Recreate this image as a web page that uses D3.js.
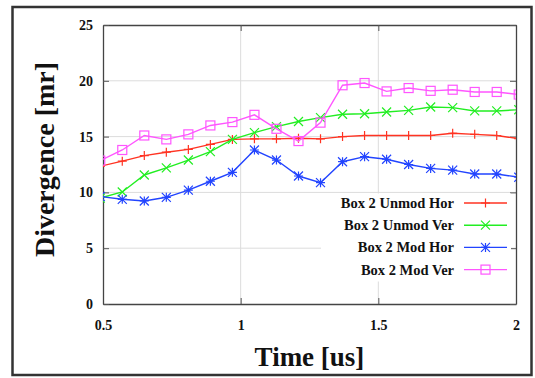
<!DOCTYPE html>
<html>
<head>
<meta charset="utf-8">
<script src="https://cdn.jsdelivr.net/npm/d3@7"></script>
<style>
  body { margin: 0; background: #fff; }
  svg text { font-family: 'Liberation Serif', 'DejaVu Serif', serif; font-weight: bold; fill: #111; }
</style>
</head>
<body>
<svg id="chart" width="535" height="378"></svg>
<script>
// time samples (us); first and last lie just outside the plotted range and get clipped
const TIME = [0.49, 0.57, 0.65, 0.73, 0.81, 0.89, 0.97, 1.05, 1.13, 1.21,
  1.29, 1.37, 1.45, 1.53, 1.61, 1.69, 1.77, 1.85, 1.93, 2.01]

const UNMOD_HOR = [12.34, 12.8, 13.3, 13.6, 13.85, 14.3, 14.75, 14.8, 14.8, 14.85,
  14.8, 15.0, 15.1, 15.1, 15.1, 15.1, 15.3, 15.2, 15.1, 14.81]
const UNMOD_VER = [9.49, 10.04, 11.56, 12.2, 12.9, 13.65, 14.75, 15.35, 15.9, 16.35,
  16.7, 17.0, 17.05, 17.2, 17.35, 17.65, 17.6, 17.3, 17.3, 17.41]
const MOD_HOR = [9.63, 9.38, 9.23, 9.56, 10.2, 11.0, 11.8, 13.8, 12.9, 11.47,
  10.87, 12.75, 13.2, 12.97, 12.5, 12.15, 12.0, 11.65, 11.65, 11.36]
const MOD_VER = [12.85, 13.8, 15.1, 14.75, 15.2, 16.0, 16.3, 16.95, 15.7, 14.6,
  16.25, 19.6, 19.8, 19.05, 19.35, 19.1, 19.2, 19.0, 19.0, 18.77]

const SERIES_NAMES = ['Box 2 Unmod Hor', 'Box 2 Unmod Ver', 'Box 2 Mod Hor', 'Box 2 Mod Ver']
const X_TICKS = [0.5, 1, 1.5, 2]
const Y_TICKS = [0, 5, 10, 15, 20, 25]

const STYLE = {
  width: 535,
  height: 378,
  margin: { top: 25, right: 19, bottom: 74, left: 103 },
  colors: ['#ff3322', '#22ee22', '#2244ff', '#ff55ff'],
  markers: ['plus', 'cross', 'star', 'square']
}

function drawMarker (g, type, cx, cy, color) {
  const s = 4.5
  if (type === 'plus') {
    g.append('path').attr('d', `M${cx - s},${cy}H${cx + s}M${cx},${cy - s}V${cy + s}`)
      .attr('stroke', color).attr('stroke-width', 1.2).attr('fill', 'none')
  } else if (type === 'cross') {
    g.append('path').attr('d', `M${cx - s},${cy - s}L${cx + s},${cy + s}M${cx - s},${cy + s}L${cx + s},${cy - s}`)
      .attr('stroke', color).attr('stroke-width', 1.2).attr('fill', 'none')
  } else if (type === 'star') {
    g.append('path').attr('d', `M${cx - s},${cy}H${cx + s}M${cx},${cy - s}V${cy + s}M${cx - s},${cy - s}L${cx + s},${cy + s}M${cx - s},${cy + s}L${cx + s},${cy - s}`)
      .attr('stroke', color).attr('stroke-width', 1.2).attr('fill', 'none')
  } else {
    g.append('rect').attr('x', cx - s).attr('y', cy - s).attr('width', 2 * s).attr('height', 2 * s)
      .attr('stroke', color).attr('stroke-width', 1.2).attr('fill', 'none')
  }
}

function drawChart () {
  const { width, height, margin, colors, markers } = STYLE
  const svg = d3.select('#chart')

  const x = d3.scaleLinear().domain([0.5, 2]).range([margin.left, width - margin.right])
  const y = d3.scaleLinear().domain([0, 25]).range([height - margin.bottom, margin.top])
  const [x0, x1] = x.range()
  const [y0, y1] = y.range()

  // outer frame
  svg.append('rect').attr('x', 12.5).attr('y', 7).attr('width', 519).attr('height', 368)
    .attr('fill', 'none').attr('stroke', '#333').attr('stroke-width', 2.5)

  // grid
  svg.append('g').selectAll('line').data(X_TICKS.slice(1, -1)).join('line')
    .attr('x1', d => x(d)).attr('x2', d => x(d)).attr('y1', y0).attr('y2', y1)
    .attr('stroke', '#dcdcdc')
  svg.append('g').selectAll('line').data(Y_TICKS.slice(1, -1)).join('line')
    .attr('y1', d => y(d)).attr('y2', d => y(d)).attr('x1', x0).attr('x2', x1)
    .attr('stroke', '#dcdcdc')

  // axes (ticks inward, mirrored)
  const tick = 6
  const axes = [
    svg.append('g').attr('transform', `translate(0,${y0})`).call(d3.axisBottom(x).tickValues(X_TICKS).tickSize(-tick).tickPadding(16).tickFormat(d3.format('')).tickSizeOuter(0)),
    svg.append('g').attr('transform', `translate(0,${y1})`).call(d3.axisTop(x).tickValues(X_TICKS).tickSize(-tick).tickFormat('').tickSizeOuter(0)),
    svg.append('g').attr('transform', `translate(${x0},0)`).call(d3.axisLeft(y).tickValues(Y_TICKS).tickSize(-tick).tickPadding(10).tickSizeOuter(0)),
    svg.append('g').attr('transform', `translate(${x1},0)`).call(d3.axisRight(y).tickValues(Y_TICKS).tickSize(-tick).tickFormat('').tickSizeOuter(0))
  ]
  axes.forEach(a => {
    a.select('.domain').attr('stroke', '#444').attr('stroke-width', 1.3)
    a.selectAll('.tick line').attr('stroke', '#555')
    a.selectAll('text').attr('font-size', 14).attr('fill', '#111')
  })

  // data
  svg.append('clipPath').attr('id', 'plotclip').append('rect')
    .attr('x', x0).attr('y', y1).attr('width', x1 - x0).attr('height', y0 - y1)

  const plot = svg.append('g').attr('clip-path', 'url(#plotclip)')
  const line = d3.line().x(d => x(d[0])).y(d => y(d[1]))
  const allSeries = [UNMOD_HOR, UNMOD_VER, MOD_HOR, MOD_VER]

  allSeries.forEach((vals, i) => {
    const pts = TIME.map((t, j) => [t, vals[j]])
    plot.append('path').datum(pts).attr('d', line)
      .attr('fill', 'none').attr('stroke', colors[i]).attr('stroke-width', 1.4)
    const mg = plot.append('g')
    pts.forEach(p => drawMarker(mg, markers[i], x(p[0]), y(p[1]), colors[i]))
  })

  // legend
  const legend = svg.append('g')
  legend.append('rect').attr('x', 321).attr('y', 193.5).attr('width', 190).attr('height', 88).attr('fill', '#fff')
  SERIES_NAMES.forEach((name, i) => {
    const cy = 203 + i * 22.2
    legend.append('text').attr('x', 454).attr('y', cy + 5).attr('text-anchor', 'end')
      .attr('font-size', 14.5).text(name)
    legend.append('line').attr('x1', 464).attr('x2', 507).attr('y1', cy).attr('y2', cy)
      .attr('stroke', colors[i]).attr('stroke-width', 1.4)
    drawMarker(legend, markers[i], 485.5, cy, colors[i])
  })

  // axis titles
  svg.append('text').attr('x', (x0 + x1) / 2).attr('y', 366).attr('text-anchor', 'middle')
    .attr('font-size', 27).text('Time [us]')
  svg.append('text').attr('transform', `translate(54,${(y0 + y1) / 2 - 5}) rotate(-90)`)
    .attr('text-anchor', 'middle').attr('font-size', 28).text('Divergence [mr]')
}

window.addEventListener('DOMContentLoaded', drawChart)
</script>
</body>
</html>
